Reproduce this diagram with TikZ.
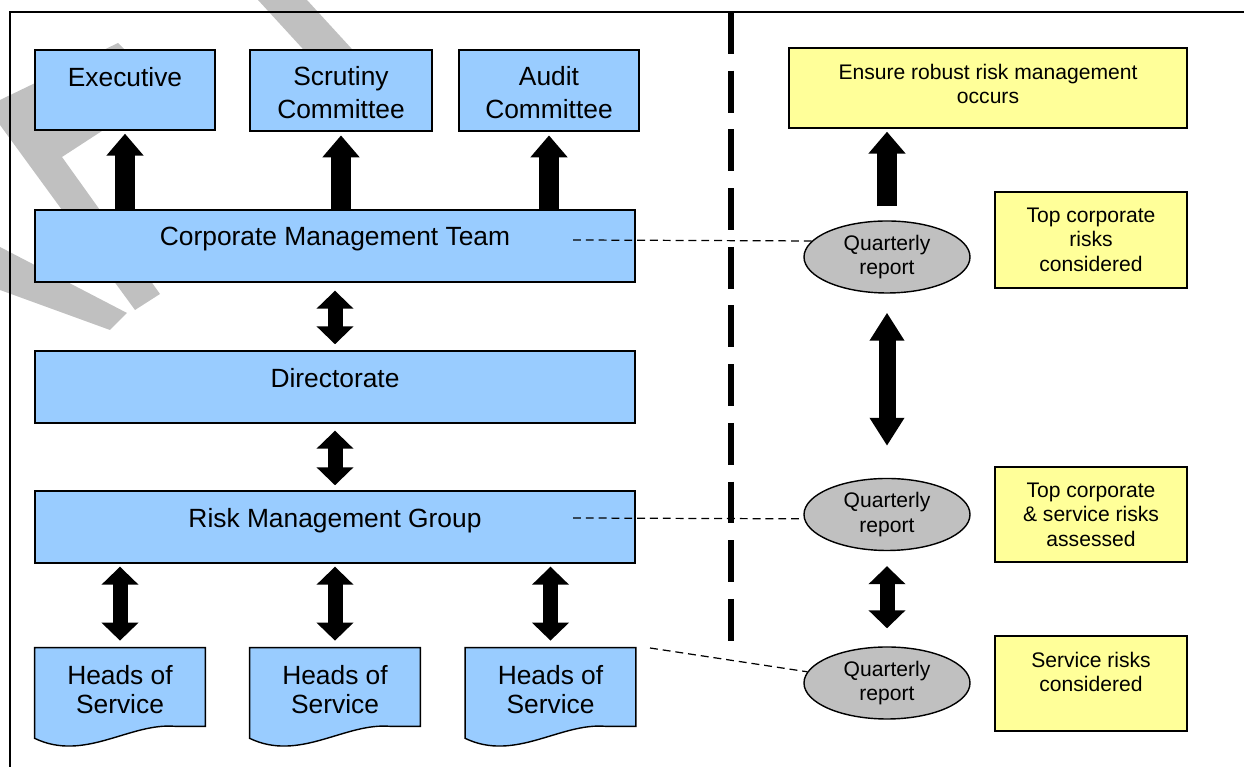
\documentclass[tikz,border=0pt]{standalone}
\usepackage{fontspec}
\setmainfont{Liberation Sans}
\usetikzlibrary{shapes.geometric, arrows.meta, backgrounds}

\definecolor{boxblue}{HTML}{99CCFF}
\definecolor{boxyellow}{HTML}{FFFF99}
\definecolor{reportgray}{HTML}{C0C0C0}
\definecolor{markgray}{HTML}{C0C0C0}

\newcommand\bigtxt{\fontsize{15}{16.5}\selectfont}
\newcommand\smalltxt{\fontsize{12}{13.8}\selectfont}

\begin{document}
\begin{tikzpicture}[
		bluebox/.style={draw, fill=boxblue, line width=0.8pt, inner sep=0pt},
		committee/.style={bluebox, line width=1.6pt},
		hosbox/.style={inner sep=0pt, minimum width=3.4cm, minimum height=1.8cm},
		notebox/.style={draw, fill=boxyellow, line width=0.8pt, inner sep=0pt,
				minimum width=3.84cm, minimum height=1.9cm},
		report/.style={ellipse, draw, fill=reportgray, line width=0.8pt, inner sep=0pt,
				minimum width=3.32cm, minimum height=1.44cm, align=center, font=\smalltxt},
		bigtop/.style={label={[anchor=north, inner sep=0pt, yshift=-0.35cm, align=center, font=\bigtxt]north:{#1}}},
		smalltop/.style={label={[anchor=north, inner sep=0pt, yshift=-0.33cm, align=center, font=\smalltxt]north:{#1}}},
		uparr/.style={line width=0.4cm, -{Triangle[width=0.72cm,length=0.44cm]}},
		twoarr/.style={line width=0.3cm, {Triangle[width=0.72cm,length=0.36cm]}-{Triangle[width=0.72cm,length=0.36cm]}},
		longarr/.style={line width=0.34cm, {Triangle[width=0.66cm,length=0.56cm]}-{Triangle[width=0.66cm,length=0.56cm]}},
		link/.style={line width=0.7pt, dash pattern=on 4.5pt off 2.8pt}
	]
	\useasboundingbox (0,0) rectangle (24.88,15.34);

	% faint watermark strokes
	\fill[markgray] (5.16,15.34) -- (6.14,15.34) -- (7.24,14.14) -- (6.26,14.14) -- cycle;
	\fill[markgray] (2.36,14.48) -- (3.3,13.54) -- (1.24,12.2) -- (3.2,9.46) -- (2.7,9.14)
		-- (0,12.84) -- (0,13.34) -- cycle;
	\fill[markgray] (0,10.4) -- (2.54,9.08) -- (2.2,8.74) -- (0,9.54) -- cycle;

	% frame
	\draw[line width=0.85pt] (0.2,0) -- (0.2,15.1) -- (24.88,15.1);

	% left side
	\node[bluebox, minimum width=3.6cm, minimum height=1.6cm, bigtop=Executive] (exec) at (2.5,13.54) {};
	\node[committee, minimum width=3.64cm, minimum height=1.62cm, bigtop={Scrutiny\\[2pt]Committee}] (scru) at (6.82,13.53) {};
	\node[committee, minimum width=3.6cm, minimum height=1.62cm, bigtop={Audit\\[2pt]Committee}] (audit) at (10.98,13.53) {};
	\node[bluebox, minimum width=12cm, minimum height=1.44cm, bigtop=Corporate Management Team] (cmt) at (6.7,10.42) {};
	\node[bluebox, minimum width=12cm, minimum height=1.44cm, bigtop=Directorate] (dir) at (6.7,7.6) {};
	\node[bluebox, minimum width=12cm, minimum height=1.44cm, bigtop=Risk Management Group] (rmg) at (6.7,4.8) {};
	\node[hosbox, bigtop={Heads of\\Service}] (hos1) at (2.4,1.48) {};
	\node[hosbox, bigtop={Heads of\\Service}] (hos2) at (6.7,1.48) {};
	\node[hosbox, bigtop={Heads of\\Service}] (hos3) at (11.01,1.48) {};

	\begin{scope}[on background layer]
		\foreach \d in {hos1,hos2,hos3}
		\draw[fill=boxblue, line width=0.8pt]
		(\d.north west) -- (\d.north east) -- ([yshift=0.24cm]\d.south east)
		-- ([xshift=-0.6cm,yshift=0.24cm]\d.south east)
		.. controls ([xshift=1.9cm,yshift=0.32cm]\d.south west) and ([xshift=1cm,yshift=-0.48cm]\d.south west) .. (\d.south west)
		-- cycle;
	\end{scope}

	% right side
	\node[notebox, minimum width=7.96cm, minimum height=1.6cm, smalltop={Ensure robust risk management\\occurs}] (ensure) at (19.76,13.58) {};
	\node[notebox, minimum height=1.92cm, smalltop={Top corporate\\risks\\considered}] (tcr) at (21.82,10.54) {};
	\node[notebox, smalltop={Top corporate\\\& service risks\\assessed}] (tcs) at (21.82,5.05) {};
	\node[notebox, smalltop={Service risks\\considered}] (svr) at (21.82,1.67) {};
	\node[report] (q1) at (17.74,10.2) {Quarterly\\report};
	\node[report] (q2) at (17.74,5.05) {Quarterly\\report};
	\node[report] (q3) at (17.74,1.68) {Quarterly\\report};

	% divider
	\draw[line width=3.6pt, dash pattern=on 23.8pt off 9.6pt] (14.62,15.1) -- (14.62,2.46);

	% block arrows
	\draw[uparr, shorten >=0.06cm] (exec.south |- cmt.north) -- (exec.south);
	\draw[uparr, shorten >=0.06cm] (scru.south |- cmt.north) -- (scru.south);
	\draw[uparr, shorten >=0.06cm] (audit.south |- cmt.north) -- (audit.south);
	\draw[twoarr, shorten <=0.16cm, shorten >=0.12cm] (cmt.south) -- (dir.north);
	\draw[twoarr, shorten <=0.14cm, shorten >=0.1cm] (dir.south) -- (rmg.north);
	\foreach \d in {hos1,hos2,hos3}
	\draw[twoarr, shorten <=0.06cm, shorten >=0.14cm] (rmg.south -| \d.north) -- (\d.north);
	\draw[uparr, shorten <=0.28cm, shorten >=0.06cm] (q1.north) -- (q1.north |- ensure.south);
	\draw[longarr, shorten <=0.38cm, shorten >=0.64cm] (q1.south) -- (q2.north);
	\draw[twoarr, shorten <=0.3cm, shorten >=0.36cm] (q2.south) -- (q3.north);

	% dashed links to the reports
	\coordinate (m1) at (11.46,10.54);
	\coordinate (m2) at (11.46,4.98);
	\coordinate (m3) at (13.0,2.38);
	\draw[link] (m1) -- (q1.168);
	\draw[link] (m2) -- (q2.183);
	\draw[link] (m3) -- (q3.172);
\end{tikzpicture}
\end{document}
